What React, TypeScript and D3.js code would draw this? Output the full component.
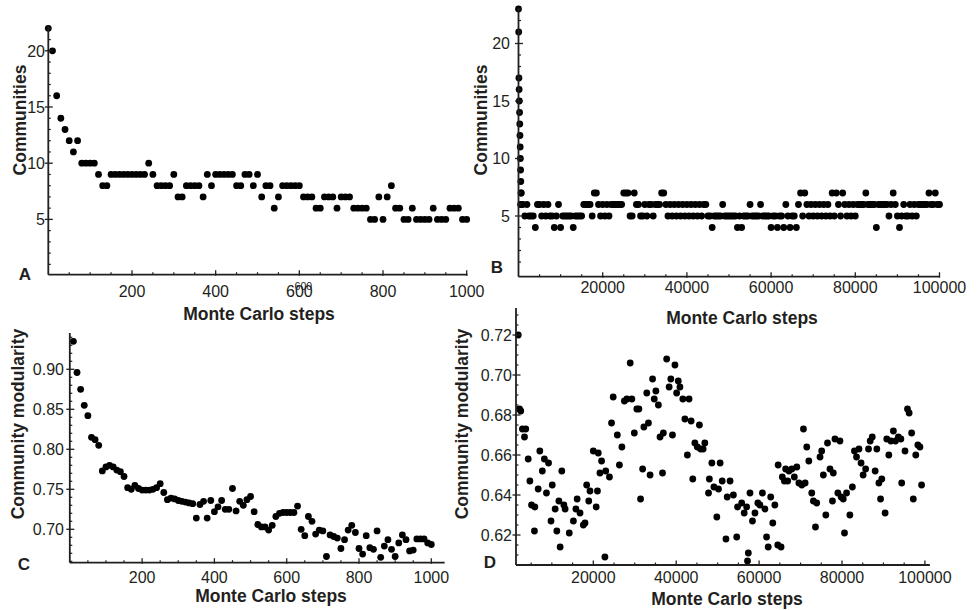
import * as d3 from "d3";

// ---- data ----
const A_STEPS = d3.range(0, 1001, 10);
const A_COMMUNITIES = [
  22, 20, 16, 14, 13, 12, 11, 12, 10, 10,
  10, 10, 9, 8, 8, 9, 9, 9, 9, 9,
  9, 9, 9, 9, 10, 9, 8, 8, 8, 8,
  9, 7, 7, 8, 8, 8, 8, 7, 9, 8,
  9, 9, 9, 9, 9, 8, 8, 9, 9, 8,
  9, 7, 8, 8, 6, 7, 8, 8, 8, 8,
  8, 7, 7, 7, 6, 6, 7, 7, 7, 6,
  7, 7, 7, 6, 6, 6, 6, 5, 5, 7,
  5, 7, 8, 6, 6, 5, 5, 6, 5, 5,
  5, 5, 6, 5, 5, 5, 6, 6, 6, 5,
  5,
];

const B_START_STEPS = d3.range(0, 750, 50);
const B_START_COMMUNITIES = [23, 21, 17, 16, 15, 14, 13, 12, 11, 10, 9, 8, 7, 7, 6];
const B_STEPS = d3.range(500, 100001, 500);
const B_COMMUNITIES = [
  6, 6, 5, 6, 5, 5, 5, 4, 6, 6, 5, 6, 5, 6, 5, 5, 4, 5, 6, 4,
  5, 5, 5, 5, 5, 4, 5, 5, 5, 5, 6, 6, 6, 6, 5, 7, 7, 6, 5, 6,
  5, 6, 5, 6, 6, 6, 6, 6, 6, 7, 7, 7, 5, 5, 7, 6, 6, 5, 5, 6,
  5, 6, 6, 5, 6, 6, 6, 7, 7, 6, 5, 6, 5, 6, 5, 6, 5, 6, 5, 6,
  5, 6, 5, 6, 5, 6, 5, 6, 6, 5, 5, 4, 5, 5, 5, 5, 6, 5, 5, 5,
  5, 5, 5, 4, 5, 4, 5, 5, 5, 6, 5, 5, 5, 5, 6, 5, 5, 5, 5, 4,
  5, 5, 4, 5, 5, 4, 6, 5, 4, 5, 5, 4, 6, 7, 5, 7, 6, 5, 6, 5,
  6, 5, 6, 5, 6, 5, 6, 5, 7, 5, 7, 6, 5, 7, 6, 5, 6, 5, 6, 5,
  6, 6, 6, 6, 7, 6, 6, 6, 6, 4, 6, 6, 6, 6, 6, 5, 6, 7, 6, 5,
  4, 5, 6, 5, 5, 6, 5, 6, 5, 6, 6, 6, 6, 6, 7, 6, 6, 7, 6, 6,
];

const C_STEPS = d3.range(10, 1001, 10);
const C_MODULARITY = [
  0.935, 0.896, 0.875, 0.855, 0.842, 0.815, 0.812, 0.805, 0.773, 0.778,
  0.78, 0.778, 0.774, 0.772, 0.766, 0.752, 0.75, 0.755, 0.751, 0.749,
  0.749, 0.749, 0.75, 0.752, 0.757, 0.746, 0.737, 0.739, 0.738, 0.736,
  0.735, 0.734, 0.733, 0.732, 0.714, 0.731, 0.735, 0.714, 0.736, 0.722,
  0.728, 0.736, 0.725, 0.725, 0.751, 0.723, 0.735, 0.73, 0.737, 0.741,
  0.722, 0.706, 0.703, 0.703, 0.699, 0.705, 0.716, 0.72, 0.721, 0.721,
  0.721, 0.721, 0.729, 0.7, 0.692, 0.716, 0.71, 0.694, 0.699, 0.698,
  0.666, 0.693, 0.691, 0.689, 0.676, 0.687, 0.699, 0.705, 0.696, 0.676,
  0.669, 0.692, 0.677, 0.675, 0.698, 0.665, 0.679, 0.687, 0.675, 0.666,
  0.683, 0.693, 0.687, 0.673, 0.674, 0.688, 0.688, 0.688, 0.683, 0.681,
];

const D_STEPS = [
  1900, 2200, 2500, 2900, 3400, 3700, 4300, 4700, 5100, 5800, 5900, 6700, 7100, 7700, 8200,
  8700, 9200, 9800, 10100, 10800, 11200, 11700, 12000, 12400, 12900, 13200, 14200, 15200,
  15800, 16100, 16800, 17600, 18000, 18400, 18900, 19200, 20000, 20700, 21000, 21200, 21600,
  22000, 22800, 23000, 23900, 24400, 24800, 25800, 26300, 26900, 27500, 28100, 28900, 29300,
  29900, 30500, 31000, 31400, 31900, 32200, 32900, 33300, 33700, 34300, 34700, 35100, 35700,
  36100, 36700, 36900, 37700, 38300, 38700, 39100, 39700, 40100, 40500, 40900, 41600, 42100,
  42700, 43100, 43600, 44000, 44500, 45100, 45600, 45900, 46500, 46900, 47800, 48000, 48600,
  49100, 49800, 50200, 50600, 51100, 52000, 52300, 53000, 53800, 54600, 54800, 55800, 56400,
  57000, 57200, 57400, 57800, 58400, 59000, 59700, 60200, 60800, 61400, 61800, 62200, 62800,
  63300, 63800, 64500, 64600, 65300, 65600, 66100, 66400, 66900, 67200, 67900, 68500, 69100,
  69600, 70300, 70700, 71100, 71500, 72000, 72700, 73100, 73600, 73900, 74700, 75100, 75500,
  76100, 76500, 77100, 77700, 77900, 78300, 79000, 79500, 79800, 80300, 80600, 81100, 81900,
  82500, 83000, 83500, 84100, 84600, 85100, 85700, 86400, 86800, 87300, 88000, 88400, 88900,
  89300, 89600, 90400, 90800, 91300, 91800, 92400, 92900, 93600, 94200, 94400, 95200, 95800,
  96200, 96800, 97200, 97800, 98300, 98800, 99200,
];
const D_MODULARITY = [
  0.72, 0.683, 0.682, 0.673, 0.669, 0.673, 0.658, 0.647, 0.635, 0.622, 0.634, 0.643, 0.662, 0.652, 0.658,
  0.641, 0.656, 0.627, 0.645, 0.633, 0.622, 0.637, 0.614, 0.652, 0.635, 0.633, 0.621, 0.627,
  0.633, 0.638, 0.631, 0.625, 0.626, 0.645, 0.637, 0.642, 0.662, 0.634, 0.642, 0.661, 0.651,
  0.657, 0.609, 0.652, 0.649, 0.676, 0.689, 0.67, 0.655, 0.664, 0.687, 0.688, 0.706, 0.688,
  0.671, 0.683, 0.683, 0.638, 0.653, 0.674, 0.691, 0.676, 0.65, 0.698, 0.688, 0.692, 0.685,
  0.669, 0.651, 0.671, 0.708, 0.694, 0.698, 0.67, 0.705, 0.691, 0.697, 0.694, 0.688, 0.678,
  0.66, 0.688, 0.677, 0.648, 0.666, 0.664, 0.675, 0.663, 0.663, 0.666, 0.641, 0.648, 0.656,
  0.644, 0.629, 0.643, 0.656, 0.647, 0.618, 0.639, 0.647, 0.64, 0.619, 0.634, 0.636, 0.631,
  0.634, 0.607, 0.611, 0.641, 0.627, 0.631, 0.636, 0.635, 0.641, 0.633, 0.619, 0.614, 0.639,
  0.626, 0.635, 0.615, 0.655, 0.614, 0.649, 0.647, 0.653, 0.647, 0.652, 0.653, 0.649, 0.654,
  0.646, 0.645, 0.673, 0.646, 0.664, 0.657, 0.641, 0.637, 0.624, 0.636, 0.659, 0.662, 0.65,
  0.63, 0.666, 0.653, 0.637, 0.651, 0.668, 0.641, 0.667, 0.639, 0.638, 0.621, 0.641, 0.63,
  0.644, 0.662, 0.659, 0.663, 0.656, 0.65, 0.653, 0.663, 0.667, 0.669, 0.652, 0.663, 0.646,
  0.638, 0.648, 0.631, 0.668, 0.66, 0.667, 0.672, 0.667, 0.669, 0.668, 0.646, 0.662, 0.683,
  0.681, 0.671, 0.638, 0.66, 0.665, 0.664, 0.645,
];

const X_TICKS_1000 = [200, 400, 600, 800, 1000];
const X_TICKS_100000 = [20000, 40000, 60000, 80000, 100000];
const Y_TICKS_COMMUNITIES = [5, 10, 15, 20];
const Y_TICKS_C = [0.7, 0.75, 0.8, 0.85, 0.9];
const Y_TICKS_D = [0.62, 0.64, 0.66, 0.68, 0.7, 0.72];

const INK = "#231f20";
const FONT = "'Liberation Sans', Arial, Helvetica, sans-serif";

function minors(from: number, to: number, step: number, majors: number[]) {
  return d3
    .range(Math.round(from / step), Math.round(to / step) + 1)
    .map((i) => +(i * step).toFixed(6))
    .filter((v) => !majors.some((m) => Math.abs(m - v) < step / 10));
}

type PanelProps = {
  x: d3.ScaleLinear<number, number>;
  y: d3.ScaleLinear<number, number>;
  xExtent: [number, number];
  yExtent: [number, number];
  xTicks: number[];
  xMinor: number[];
  yTicks: number[];
  yMinor: number[];
  yFmt: (v: number) => string;
  px: number[];
  py: number[];
  yLabel: string;
  yLabelPos: [number, number];
  xLabelPos: [number, number];
  letter: string;
  letterPos: [number, number];
  xTickBase: number;
  yTickRight: number;
};

function Panel(p: PanelProps) {
  const x0 = p.x(p.xExtent[0]);
  const x1 = p.x(p.xExtent[1]);
  const y0 = p.y(p.yExtent[0]);
  const y1 = p.y(p.yExtent[1]);
  return (
    <g>
      {p.px.map((v, i) => (
        <circle key={i} cx={p.x(v)} cy={p.y(p.py[i])} r={3.4} fill="#000" />
      ))}
      <line x1={x0} x2={x1} y1={y0} y2={y0} stroke={INK} strokeWidth={1.8} />
      <line x1={x0} x2={x0} y1={y0} y2={y1} stroke={INK} strokeWidth={1.8} />
      {p.xMinor.map((t) => (
        <line key={"xm" + t} x1={p.x(t)} x2={p.x(t)} y1={y0} y2={y0 - 2.5} stroke={INK} strokeWidth={1.2} />
      ))}
      {p.xTicks.map((t) => (
        <g key={"x" + t}>
          <line x1={p.x(t)} x2={p.x(t)} y1={y0 + 1} y2={y0 - 4.5} stroke={INK} strokeWidth={1.3} />
          <text x={p.x(t)} y={p.xTickBase} textAnchor="middle" fontSize={16} fill={INK}>
            {t}
          </text>
        </g>
      ))}
      {p.yMinor.map((t) => (
        <line key={"ym" + t} x1={x0} x2={x0 + 2.5} y1={p.y(t)} y2={p.y(t)} stroke={INK} strokeWidth={1.2} />
      ))}
      {p.yTicks.map((t) => (
        <g key={"y" + t}>
          <line x1={x0 - 3.5} x2={x0 + 4.5} y1={p.y(t)} y2={p.y(t)} stroke={INK} strokeWidth={1.3} />
          <text x={p.yTickRight} y={p.y(t) + 5.7} textAnchor="end" fontSize={16} fill={INK}>
            {p.yFmt(t)}
          </text>
        </g>
      ))}
      <text
        transform={`translate(${p.yLabelPos[0]},${p.yLabelPos[1]}) rotate(-90)`}
        dy="0.35em"
        textAnchor="middle"
        fontSize={17.5}
        fontWeight="bold"
        fill={INK}
      >
        {p.yLabel}
      </text>
      <text x={p.xLabelPos[0]} y={p.xLabelPos[1]} textAnchor="middle" fontSize={17.5} fontWeight="bold" fill={INK}>
        Monte Carlo steps
      </text>
      <text x={p.letterPos[0]} y={p.letterPos[1]} textAnchor="middle" fontSize={17} fontWeight="bold" fill={INK}>
        {p.letter}
      </text>
    </g>
  );
}

export default function App() {
  const fmtInt = (v: number) => String(v);
  const fmt2 = d3.format(".2f");

  const xA = d3.scaleLinear().domain([0, 1000]).range([48.3, 466.7]);
  const yA = d3.scaleLinear().domain([0, 20]).range([275.6, 50.8]);

  const xB = d3.scaleLinear().domain([0, 100000]).range([518.5, 939.5]);
  const yB = d3.scaleLinear().domain([0, 20]).range([273.5, 43.5]);

  const xC = d3.scaleLinear().domain([0, 1000]).range([69.8, 431.3]);
  const yC = d3.scaleLinear().domain([0.7, 0.9]).range([529.3, 369.3]);

  const xD = d3.scaleLinear().domain([0, 100000]).range([510.4, 924.9]);
  const yD = d3.scaleLinear().domain([0.62, 0.72]).range([535, 335]);

  return (
    <svg
      width={979}
      height={610}
      style={{ position: "absolute", left: 0, top: 0, background: "#fff" }}
      fontFamily={FONT}
    >
      <Panel
        x={xA}
        y={yA}
        xExtent={[0, 1002]}
        yExtent={[0.08, 22.2]}
        xTicks={X_TICKS_1000}
        xMinor={minors(50, 1000, 50, X_TICKS_1000)}
        yTicks={Y_TICKS_COMMUNITIES}
        yMinor={minors(1, 22, 1, Y_TICKS_COMMUNITIES)}
        yFmt={fmtInt}
        px={A_STEPS}
        py={A_COMMUNITIES}
        yLabel="Communities"
        yLabelPos={[20, 120]}
        xLabelPos={[259, 320]}
        letter="A"
        letterPos={[25, 280]}
        xTickBase={296.5}
        yTickRight={45}
      />
      {/* stray overprinted label seen under the 600 tick of panel A */}
      <text x={xA(600) + 4} y={289.5} textAnchor="middle" fontSize={10.5} fill={INK} fontFamily={FONT}>
        600
      </text>
      <Panel
        x={xB}
        y={yB}
        xExtent={[0, 100000]}
        yExtent={[-0.28, 23.1]}
        xTicks={X_TICKS_100000}
        xMinor={minors(5000, 100000, 5000, X_TICKS_100000)}
        yTicks={Y_TICKS_COMMUNITIES}
        yMinor={minors(1, 23, 1, Y_TICKS_COMMUNITIES)}
        yFmt={fmtInt}
        px={[...B_START_STEPS, ...B_STEPS]}
        py={[...B_START_COMMUNITIES, ...B_COMMUNITIES]}
        yLabel="Communities"
        yLabelPos={[481, 120]}
        xLabelPos={[742, 324]}
        letter="B"
        letterPos={[497, 273]}
        xTickBase={293}
        yTickRight={510}
      />
      <Panel
        x={xC}
        y={yC}
        xExtent={[0, 1037]}
        yExtent={[0.6583, 0.9454]}
        xTicks={X_TICKS_1000}
        xMinor={minors(50, 1000, 50, X_TICKS_1000)}
        yTicks={Y_TICKS_C}
        yMinor={minors(0.66, 0.94, 0.01, Y_TICKS_C)}
        yFmt={fmt2}
        px={C_STEPS}
        py={C_MODULARITY}
        yLabel="Community modularity"
        yLabelPos={[17.5, 424]}
        xLabelPos={[271, 601.5]}
        letter="C"
        letterPos={[24, 570]}
        xTickBase={583}
        yTickRight={64}
      />
      <Panel
        x={xD}
        y={yD}
        xExtent={[1350, 101200]}
        yExtent={[0.605, 0.7335]}
        xTicks={X_TICKS_100000}
        xMinor={minors(5000, 100000, 5000, X_TICKS_100000)}
        yTicks={Y_TICKS_D}
        yMinor={minors(0.61, 0.73, 0.005, Y_TICKS_D)}
        yFmt={fmt2}
        px={D_STEPS}
        py={D_MODULARITY}
        yLabel="Community modularity"
        yLabelPos={[462, 424]}
        xLabelPos={[727, 605]}
        letter="D"
        letterPos={[490, 568]}
        xTickBase={583}
        yTickRight={512}
      />
    </svg>
  );
}
